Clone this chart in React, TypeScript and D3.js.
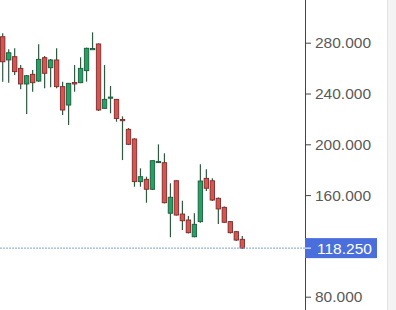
import React from "react";
import * as d3 from "d3";

const opens = [284.7, 266.4, 269.0, 259.8, 247.5, 255.1, 249.8, 268.2, 260.3, 266.4, 245.4, 230.9, 248.7, 248.5, 258.0, 274.6, 279.0, 228.3, 236.5, 235.4, 219.5, 211.8, 204.2, 170.6, 172.4, 164.6, 185.7, 185.5, 145.7, 171.3, 145.1, 140.4, 127.2, 139.1, 173.2, 171.3, 157.5, 150.4, 139.1, 131.2, 125.2];
const highs = [287.4, 274.8, 275.6, 262.4, 254.6, 258.5, 278.7, 269.5, 267.2, 275.6, 249.3, 248.3, 262.4, 268.5, 276.1, 288.2, 279.4, 262.4, 245.9, 235.7, 222.0, 212.8, 204.6, 181.1, 174.5, 187.2, 200.0, 192.9, 169.3, 171.5, 155.6, 143.5, 145.7, 184.3, 180.3, 173.2, 158.1, 151.0, 139.6, 131.7, 127.8];
const lows = [249.3, 248.5, 254.6, 243.3, 223.9, 241.4, 249.3, 244.1, 244.9, 244.2, 223.1, 215.2, 241.4, 248.2, 249.3, 274.6, 226.2, 228.1, 224.4, 217.8, 187.6, 199.4, 166.6, 166.6, 154.0, 164.0, 185.3, 153.4, 126.8, 143.9, 132.5, 129.8, 126.8, 138.3, 163.2, 155.4, 137.2, 138.0, 129.8, 123.9, 117.8];
const closes = [265.0, 272.1, 257.2, 247.5, 254.0, 248.5, 266.9, 255.9, 266.4, 245.4, 227.0, 248.0, 247.5, 259.8, 275.6, 275.4, 227.0, 235.4, 237.2, 220.3, 218.7, 200.0, 170.6, 174.5, 164.6, 187.1, 186.5, 154.0, 158.3, 144.3, 139.8, 130.4, 137.0, 171.1, 165.4, 156.1, 149.1, 138.6, 130.4, 124.6, 118.25];
const tickValues = [280, 240, 200, 160, 80];
const lastPrice = 118.25;

const W = 396;
const H = 310;
const AXIS_X = 305;

export default function App() {
  const idx = d3.range(opens.length);
  const x = d3.scalePoint<number>().domain(idx).range([2.7, 242.3]);
  const y = d3.scaleLinear().domain([280, 80]).range([42.7, 296.7]);
  const bw = 4.4;
  const fmt = d3.format(".3f");
  const font = "'Liberation Sans', Arial, sans-serif";
  const yl = y(lastPrice);

  return (
    <div style={{ position: "absolute", left: 0, top: 0, width: W, height: H }}>
      <svg width={W} height={H} style={{ display: "block", background: "#fff" }}>
        <rect x={387} y={0} width={W - 387} height={H} fill="#f3f3f4" />
        <line x1={387.5} x2={387.5} y1={0} y2={H} stroke="#e3e3e6" />
        <g>
          {idx.map((i) => {
            const cx = x(i)!;
            const up = closes[i] >= opens[i];
            const top = y(Math.max(opens[i], closes[i]));
            const bot = y(Math.min(opens[i], closes[i]));
            const h = Math.max(bot - top, 1.2);
            return (
              <g key={i}>
                <line x1={cx} x2={cx} y1={y(highs[i])} y2={y(lows[i])} stroke="#2f5a40" strokeWidth={1.2} />
                <rect
                  x={cx - bw / 2}
                  y={top}
                  width={bw}
                  height={h}
                  fill={up ? "#1fa463" : "#d9534f"}
                  stroke={up ? "#1e5a3c" : "#7d2b2b"}
                  strokeWidth={0.9}
                />
              </g>
            );
          })}
        </g>
        <line x1={0} x2={AXIS_X} y1={yl} y2={yl} stroke="#7f9de6" strokeWidth={1} strokeDasharray="2,1" />
        <line x1={AXIS_X + 0.5} x2={AXIS_X + 0.5} y1={0} y2={H} stroke="#444" strokeWidth={1} />
        {tickValues.map((t) => (
          <g key={t} transform={`translate(0,${y(t)})`}>
            <line x1={AXIS_X} x2={AXIS_X + 6} y1={0.5} y2={0.5} stroke="#444" />
            <text x={315} y={0} dy="0.35em" fontFamily={font} fontSize={15.5} fill="#5a5a5a">
              {fmt(t)}
            </text>
          </g>
        ))}
        <rect x={AXIS_X} y={yl - 10} width={72} height={20} fill="#4a6fdc" />
        <line x1={AXIS_X} x2={AXIS_X + 6} y1={yl} y2={yl} stroke="#fff" />
        <text x={317} y={yl} dy="0.35em" fontFamily={font} fontSize={15.5} fill="#fff">
          {fmt(lastPrice)}
        </text>
      </svg>
    </div>
  );
}
